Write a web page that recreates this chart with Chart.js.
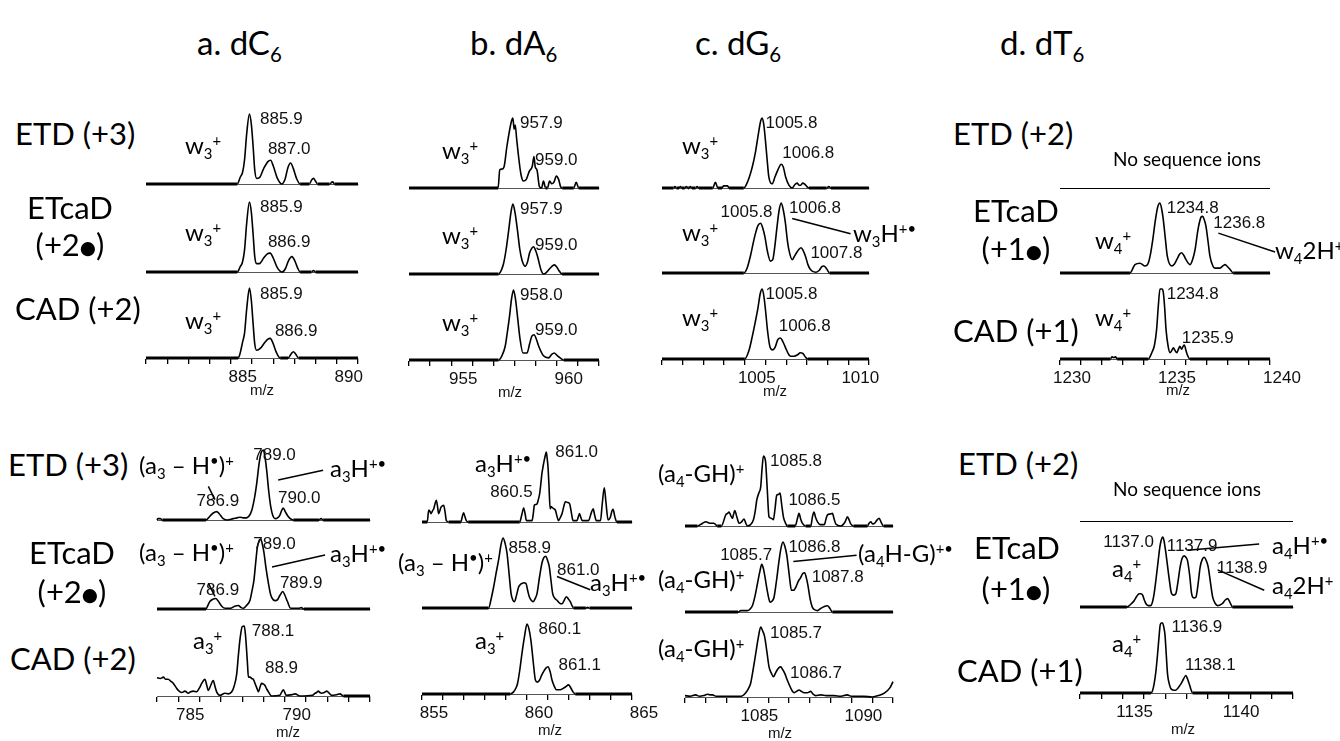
<!DOCTYPE html>
<html>
<head>
<meta charset="utf-8">
<script src="https://cdn.jsdelivr.net/npm/chart.js@4.4.1/dist/chart.umd.min.js"></script>
<style>
  html, body { margin: 0; padding: 0; background: #fff; }
  #fig { position: relative; width: 1340px; height: 741px; overflow: hidden; }
  #fig canvas { position: absolute; }
  .t { position: absolute; white-space: nowrap; font-family: Lato, "Open Sans", sans-serif; color: #000; line-height: 1; transform: translateY(-50%); }
  .t.c { transform: translate(-50%, -50%); }
  .t sub { font-size: 0.62em; vertical-align: baseline; position: relative; top: 0.32em; }
  .t sup { font-size: 0.62em; vertical-align: baseline; position: relative; top: -0.55em; }
  .ttl { font-size: 33px; }
  .row { font-size: 31px; }
  .ion { font-size: 24px; }
  .none { font-size: 19px; }
  .mz { font-family: "Liberation Sans", Arial, sans-serif; font-size: 15px; color: #111; }
  .dot { font-family: "DejaVu Sans", sans-serif; font-size: 0.6em; position: relative; top: -0.1em; }
  .rule { position: absolute; height: 0; border-top: 1.6px solid #000; }
</style>
</head>
<body>
<div id="fig"></div>
<script>
// spectra: [m/z, relative intensity]
const specA1 = [[881,0],[885.3,0],[885.45,10],[885.55,16],[885.65,35],[885.75,72],[885.88,100],[885.97,85],[886.05,55],[886.13,20],[886.22,8],[886.35,9],[886.55,22],[886.75,32],[886.88,34],[887.0,26],[887.2,8],[887.4,0],[887.55,6],[887.7,24],[887.82,30],[887.95,22],[888.1,8],[888.27,0],[888.7,0],[888.82,6],[888.9,8],[889.0,4],[889.1,0],[889.65,0],[889.8,3],[889.9,0],[891,0]];
const specA2 = [[881,0],[885.3,0],[885.45,8],[885.55,14],[885.65,32],[885.75,70],[885.88,100],[885.97,85],[886.05,55],[886.13,22],[886.22,12],[886.35,12],[886.55,20],[886.72,26],[886.86,27],[887.0,20],[887.2,6],[887.42,0],[887.58,5],[887.72,16],[887.88,22],[888.02,16],[888.15,6],[888.27,0],[888.8,0],[888.9,2],[889.0,0],[891,0]];
const specA3 = [[881,0],[885.35,0],[885.45,8],[885.55,22],[885.65,36],[885.75,70],[885.88,100],[885.97,82],[886.05,50],[886.13,20],[886.22,11],[886.4,14],[886.6,22],[886.75,27],[886.86,28],[886.98,22],[887.15,8],[887.33,0],[887.7,0],[887.85,6],[887.95,9],[888.05,6],[888.2,0],[891,0]];
const specB1 = [[953,0],[957.22,0],[957.3,26],[957.4,27],[957.5,30],[957.64,60],[957.75,80],[957.85,95],[957.92,100],[957.98,84],[958.03,90],[958.1,70],[958.19,45],[958.3,20],[958.42,10],[958.55,12],[958.7,24],[958.84,31],[958.92,45],[958.98,30],[959.06,26],[959.18,2],[959.28,0],[959.37,10],[959.47,0],[959.56,0],[959.66,10],[959.76,6],[959.86,8],[959.98,17],[960.09,12],[960.18,2],[960.26,0],[960.8,0],[960.92,8],[961.04,0],[962,0]];
const specB2 = [[953,0],[957.24,0],[957.38,6],[957.48,15],[957.6,35],[957.72,62],[957.83,88],[957.92,100],[958.02,88],[958.14,62],[958.25,35],[958.35,20],[958.5,11],[958.62,18],[958.71,30],[958.82,37],[958.9,39],[958.98,35],[959.09,25],[959.25,6],[959.37,0],[959.5,2],[959.62,6],[959.74,10],[959.88,13],[960.0,10],[960.1,5],[960.25,0],[962,0]];
const specB3 = [[953,0],[957.24,0],[957.4,6],[957.56,20],[957.66,40],[957.76,62],[957.86,88],[957.95,100],[958.04,88],[958.14,62],[958.26,30],[958.4,10],[958.59,10],[958.72,24],[958.82,34],[958.93,36],[959.03,30],[959.14,20],[959.37,6],[959.61,3],[959.76,8],[959.88,10],[960.0,7],[960.16,3],[960.33,0],[962,0]];
const specC1 = [[1001,0],[1001.55,0],[1001.62,2],[1001.7,0],[1001.82,0],[1001.89,2],[1001.96,0],[1002.1,0],[1002.18,2],[1002.26,0],[1002.3,0],[1002.37,2],[1002.44,0],[1002.62,0],[1002.7,2],[1002.78,0],[1003.45,0],[1003.58,8],[1003.7,0],[1003.9,0],[1003.97,3],[1004.16,3],[1004.24,0],[1004.95,0],[1005.15,10],[1005.36,30],[1005.52,52],[1005.66,78],[1005.77,96],[1005.84,100],[1005.92,90],[1006.0,67],[1006.08,40],[1006.16,16],[1006.32,6],[1006.46,16],[1006.6,26],[1006.76,34],[1006.86,30],[1006.97,16],[1007.13,4],[1007.29,0],[1007.42,5],[1007.53,7],[1007.62,4],[1007.7,4],[1007.8,7],[1007.88,6],[1008.0,2],[1008.1,0],[1008.95,0],[1009.06,2],[1009.16,0],[1011,0]];
const specC2 = [[1001,0],[1004.95,0],[1005.1,6],[1005.27,24],[1005.4,42],[1005.52,57],[1005.64,68],[1005.76,71],[1005.87,64],[1005.97,52],[1006.1,30],[1006.24,17],[1006.35,19],[1006.45,38],[1006.56,67],[1006.66,90],[1006.76,100],[1006.86,90],[1006.96,72],[1007.05,48],[1007.13,33],[1007.29,19],[1007.4,24],[1007.5,29],[1007.62,34],[1007.72,36],[1007.82,32],[1007.93,24],[1008.05,12],[1008.17,5],[1008.42,1],[1008.6,4],[1008.72,9],[1008.82,10],[1008.95,6],[1009.1,0],[1011,0]];
const specC3 = [[1001,0],[1005.0,0],[1005.2,12],[1005.36,32],[1005.5,52],[1005.63,72],[1005.75,94],[1005.84,100],[1005.92,90],[1006.0,70],[1006.1,40],[1006.21,18],[1006.32,13],[1006.45,16],[1006.6,28],[1006.72,30],[1006.82,26],[1006.97,16],[1007.13,6],[1007.21,4],[1007.37,4],[1007.55,6],[1007.68,9],[1007.8,8],[1007.95,2],[1008.05,0],[1011,0]];
const specD2 = [[1230,0],[1233.33,0],[1233.57,12],[1233.81,14],[1234.05,10],[1234.2,14],[1234.29,24],[1234.42,48],[1234.52,71],[1234.65,94],[1234.76,100],[1234.85,90],[1234.92,76],[1235.02,48],[1235.11,24],[1235.32,10],[1235.45,13],[1235.56,19],[1235.7,27],[1235.79,29],[1235.9,25],[1236.0,19],[1236.19,12],[1236.3,18],[1236.43,33],[1236.55,58],[1236.63,71],[1236.72,80],[1236.79,81],[1236.87,76],[1236.95,67],[1237.05,45],[1237.14,24],[1237.28,10],[1237.38,7],[1237.62,7],[1237.75,10],[1237.86,12],[1237.98,9],[1238.1,5],[1238.25,0],[1240,0]];
const specD3 = [[1230,0],[1232.4,0],[1232.48,3],[1232.56,2],[1232.64,3],[1232.72,0],[1234.2,0],[1234.37,9],[1234.5,20],[1234.6,42],[1234.68,75],[1234.76,100],[1234.86,100],[1234.92,95],[1234.98,75],[1235.05,42],[1235.15,18],[1235.24,9],[1235.32,12],[1235.4,16],[1235.48,12],[1235.56,9],[1235.64,14],[1235.71,18],[1235.79,14],[1235.86,18],[1235.92,20],[1236.0,12],[1236.06,6],[1236.19,0],[1240,0]];
const specA4 = [[784,0],[784.05,2],[784.15,2],[784.25,0],[786.3,0],[786.5,6],[786.64,10],[786.8,12],[786.92,9],[787.11,2],[787.3,0],[787.58,2],[787.75,3],[787.9,4],[788.05,3],[788.2,3],[788.33,6],[788.45,14],[788.58,32],[788.68,52],[788.8,82],[788.9,97],[788.99,100],[789.07,90],[789.15,71],[789.25,40],[789.34,19],[789.44,6],[789.54,2],[789.66,3],[789.77,7],[789.86,14],[789.93,17],[790.02,12],[790.16,5],[790.3,1],[790.4,0],[791.6,0],[791.7,2],[791.8,0],[794,0]];
const specA5 = [[784,0],[786.3,0],[786.4,6],[786.49,11],[786.62,14],[786.76,15],[786.88,11],[787.04,4],[787.2,1],[787.45,1],[787.65,4],[787.82,5],[787.95,2],[788.05,1],[788.2,5],[788.37,13],[788.46,26],[788.55,41],[788.63,65],[788.71,88],[788.8,98],[788.87,100],[788.95,92],[789.02,81],[789.12,58],[789.23,37],[789.34,20],[789.46,13],[789.56,12],[789.65,13],[789.78,20],[789.9,25],[790.0,20],[790.12,11],[790.28,1],[790.65,1],[790.78,2],[790.9,0],[794,0]];
const specA6 = [[784,26],[784.15,25],[784.3,27],[784.4,24],[784.53,24],[784.65,21],[784.77,18],[784.9,12],[785.0,8],[785.16,5],[785.31,7],[785.47,4],[785.58,6],[785.7,7],[785.86,6],[786.0,12],[786.1,18],[786.25,24],[786.33,16],[786.41,8],[786.52,15],[786.64,22],[786.72,14],[786.8,6],[786.96,1],[787.19,4],[787.35,3],[787.51,6],[787.62,14],[787.74,31],[787.82,58],[787.9,82],[788.0,99],[788.1,100],[788.16,85],[788.21,64],[788.25,45],[788.29,27],[788.37,27],[788.45,25],[788.52,24],[788.6,18],[788.68,12],[788.76,6],[788.85,14],[788.91,18],[789.0,17],[789.07,15],[789.15,10],[789.23,6],[789.38,0],[789.77,1],[789.86,6],[789.93,9],[790.0,5],[790.06,1],[790.35,2],[790.48,3],[790.71,0],[791.3,1],[791.42,4],[791.5,5],[791.57,7],[791.65,5],[791.73,4],[791.85,5],[791.97,7],[792.08,4],[792.2,1],[792.45,2],[792.59,3],[792.75,0],[794,0]];
const specB4 = [[855,0],[855.25,0],[855.32,17],[855.38,15],[855.43,12],[855.5,16],[855.56,19],[855.62,26],[855.68,31],[855.74,22],[855.79,12],[855.85,16],[855.9,21],[855.97,23],[856.03,24],[856.1,14],[856.16,2],[856.27,0],[856.85,0],[856.92,8],[856.98,13],[857.05,7],[857.11,2],[857.2,0],[859.65,0],[859.75,10],[859.84,20],[859.92,10],[859.97,2],[860.24,2],[860.3,12],[860.35,24],[860.42,25],[860.48,26],[860.54,32],[860.6,40],[860.66,55],[860.71,69],[860.77,80],[860.82,88],[860.88,96],[860.92,100],[860.97,88],[861.0,79],[861.05,50],[861.1,19],[861.15,22],[861.19,21],[861.27,19],[861.35,17],[861.43,8],[861.5,2],[861.58,6],[861.67,12],[861.75,22],[861.83,29],[861.93,28],[862.03,26],[862.12,12],[862.19,2],[862.38,2],[862.44,7],[862.5,12],[862.56,7],[862.63,2],[862.93,2],[863.05,12],[863.15,19],[863.22,10],[863.3,2],[863.5,2],[863.58,25],[863.68,49],[863.76,28],[863.86,3],[863.96,6],[864.05,16],[864.1,18],[864.18,8],[864.28,0],[865,0]];
const specB5 = [[855,0],[858.17,0],[858.3,14],[858.41,30],[858.53,50],[858.65,69],[858.76,90],[858.86,100],[858.96,92],[859.05,78],[859.15,48],[859.24,21],[859.33,11],[859.4,9],[859.5,18],[859.6,30],[859.7,34],[859.76,35],[859.85,36],[859.95,35],[860.04,24],[860.11,16],[860.2,11],[860.29,9],[860.38,13],[860.48,21],[860.6,45],[860.71,64],[860.8,72],[860.9,74],[860.98,68],[861.06,59],[861.14,40],[861.22,21],[861.32,14],[861.43,11],[861.55,7],[861.67,6],[861.77,11],[861.87,16],[861.97,13],[862.06,9],[862.15,3],[862.22,0],[862.8,0],[862.89,1],[862.98,0],[865,0]];
const specB6 = [[855,0],[859.2,0],[859.36,3],[859.48,9],[859.55,15],[859.66,35],[859.76,58],[859.88,82],[860.0,100],[860.1,92],[860.19,76],[860.3,45],[860.4,20],[860.5,17],[860.6,20],[860.7,27],[860.79,32],[860.9,37],[861.0,39],[861.1,32],[861.19,20],[861.3,11],[861.4,6],[861.59,6],[861.72,8],[861.83,10],[861.98,13],[862.08,9],[862.19,3],[862.3,0],[865,0]];
const specC4 = [[1082,0],[1082.6,0],[1082.85,4],[1083.0,6],[1083.2,4],[1083.39,4],[1083.55,0],[1083.75,0],[1083.96,16],[1084.05,18],[1084.12,20],[1084.2,15],[1084.28,11],[1084.33,16],[1084.39,22],[1084.5,12],[1084.6,4],[1084.72,6],[1084.84,10],[1084.92,4],[1085.0,0],[1085.15,2],[1085.29,9],[1085.38,22],[1085.45,37],[1085.55,47],[1085.64,56],[1085.7,80],[1085.77,100],[1085.83,98],[1085.88,90],[1085.95,55],[1086.04,13],[1086.15,11],[1086.25,9],[1086.33,25],[1086.41,44],[1086.49,45],[1086.57,47],[1086.65,30],[1086.73,13],[1086.82,5],[1086.92,0],[1087.3,0],[1087.4,10],[1087.48,18],[1087.56,10],[1087.64,4],[1087.8,0],[1088.05,0],[1088.12,12],[1088.2,20],[1088.28,12],[1088.37,6],[1088.5,2],[1088.7,2],[1088.78,10],[1088.85,16],[1088.97,17],[1089.09,18],[1089.17,10],[1089.25,3],[1089.5,0],[1089.7,6],[1089.81,13],[1089.9,8],[1089.97,3],[1090.1,0],[1090.77,0],[1090.85,4],[1090.93,6],[1091.02,3],[1091.12,4],[1091.22,8],[1091.33,11],[1091.45,4],[1091.55,0],[1092,0]];
const specC5 = [[1082,0],[1084.55,0],[1084.68,2],[1085.0,2],[1085.12,4],[1085.24,9],[1085.36,22],[1085.48,40],[1085.6,58],[1085.69,68],[1085.77,62],[1085.85,49],[1085.97,28],[1086.09,14],[1086.2,16],[1086.28,21],[1086.4,45],[1086.52,73],[1086.62,92],[1086.71,100],[1086.8,94],[1086.89,82],[1087.0,56],[1087.12,31],[1087.22,31],[1087.32,35],[1087.45,44],[1087.56,49],[1087.66,55],[1087.75,56],[1087.84,48],[1087.91,38],[1088.02,18],[1088.12,7],[1088.25,3],[1088.37,2],[1088.52,5],[1088.7,8],[1088.85,9],[1088.97,5],[1089.09,0],[1092,0]];
const specC6 = [[1082,2],[1082.25,1],[1082.51,3],[1082.7,1],[1082.9,2],[1083.08,4],[1083.2,3],[1083.32,3],[1083.5,1],[1084.7,1],[1084.92,6],[1085.05,12],[1085.16,20],[1085.28,40],[1085.4,62],[1085.52,84],[1085.64,100],[1085.74,94],[1085.83,86],[1085.94,64],[1086.04,43],[1086.15,34],[1086.25,29],[1086.35,34],[1086.44,39],[1086.52,42],[1086.6,43],[1086.7,39],[1086.79,34],[1086.92,24],[1087.05,15],[1087.15,9],[1087.24,6],[1087.36,8],[1087.48,10],[1087.6,8],[1087.72,6],[1087.88,6],[1088.04,8],[1088.16,4],[1088.28,2],[1088.52,3],[1088.8,2],[1089.16,2],[1089.5,1],[1089.8,3],[1090.0,1],[1090.6,1],[1091.0,0],[1091.3,2],[1091.6,6],[1091.85,13],[1092,22]];
const specD5 = [[1133,0],[1135.2,0],[1135.31,2],[1135.42,5],[1135.54,9],[1135.66,15],[1135.78,19],[1135.86,19],[1135.94,17],[1136.02,10],[1136.09,5],[1136.2,2],[1136.33,2],[1136.41,8],[1136.48,19],[1136.57,40],[1136.67,66],[1136.75,86],[1136.8,94],[1136.88,100],[1136.92,98],[1137.0,84],[1137.08,66],[1137.18,42],[1137.3,19],[1137.4,17],[1137.5,19],[1137.6,36],[1137.7,57],[1137.8,70],[1137.89,73],[1137.97,71],[1138.05,66],[1138.15,45],[1138.24,19],[1138.34,13],[1138.44,14],[1138.54,32],[1138.64,57],[1138.74,68],[1138.83,71],[1138.93,66],[1139.02,57],[1139.12,36],[1139.23,14],[1139.35,5],[1139.46,2],[1139.58,3],[1139.69,5],[1139.82,10],[1139.93,12],[1140.05,6],[1140.16,0],[1143,0]];
const specD6 = [[1133,0],[1136.33,0],[1136.4,3],[1136.48,13],[1136.56,30],[1136.64,55],[1136.71,80],[1136.77,98],[1136.83,100],[1136.88,100],[1136.94,93],[1136.99,83],[1137.05,55],[1137.11,27],[1137.2,12],[1137.27,6],[1137.4,4],[1137.5,4],[1137.62,8],[1137.74,13],[1137.86,20],[1137.97,25],[1138.05,20],[1138.13,13],[1138.21,5],[1138.29,0],[1143,0]];

// m/z ranges and labelled ticks
const rangeTopA = [881, 891], rangeTopB = [953, 962], rangeTopC = [1001, 1011], rangeTopD = [1230, 1240];
const rangeBotA = [784, 794], rangeBotB = [855, 865], rangeBotC = [1082, 1092], rangeBotD = [1133, 1143];
const ticksTopA = [885, 890], ticksTopB = [955, 960], ticksTopC = [1005, 1010], ticksTopD = [1230, 1235, 1240];
const ticksBotA = [785, 790], ticksBotB = [855, 860, 865], ticksBotC = [1085, 1090], ticksBotD = [1135, 1140];

// peak labels: [m/z, intensity, text]
const lblA1 = [[886.38, 93, '885.9'], [886.75, 49, '887.0']];
const lblA2 = [[886.38, 93, '885.9'], [886.75, 43, '886.9']];
const lblA3 = [[886.38, 91, '885.9'], [887.08, 38, '886.9']];
const lblB1 = [[958.26, 92, '957.9'], [958.97, 40, '959.0']];
const lblB2 = [[958.26, 92, '957.9'], [958.97, 41, '959.0']];
const lblB3 = [[958.26, 93, '958.0'], [958.97, 43, '959.0']];
const lblC1 = [[1006.0, 92, '1005.8'], [1006.81, 50, '1006.8']];
const lblC2 = [[1003.83, 87, '1005.8'], [1007.13, 92, '1006.8'], [1008.17, 28, '1007.8']];
const lblC3 = [[1006.0, 93, '1005.8'], [1006.64, 46, '1006.8']];
const lblD2 = [[1235.08, 92, '1234.8'], [1237.3, 71, '1236.8']];
const lblD3 = [[1235.08, 93, '1234.8'], [1235.8, 30, '1235.9']];
const lblA4 = [[788.52, 93, '789.0'], [785.86, 26, '786.9'], [789.68, 31, '790.0']];
const lblA5 = [[788.52, 93, '789.0'], [785.86, 27, '786.9'], [789.77, 36, '789.9']];
const lblA6 = [[788.45, 93, '788.1'], [789.07, 40, '88.9']];
const lblB4 = [[861.35, 100, '861.0'], [858.25, 43, '860.5']];
const lblB5 = [[859.12, 85, '858.9'], [861.43, 54, '861.0']];
const lblB6 = [[860.55, 92, '860.1'], [861.5, 41, '861.1']];
const lblC4 = [[1086.09, 92, '1085.8'], [1086.97, 37, '1086.5']];
const lblC5 = [[1083.69, 81, '1085.7'], [1086.97, 93, '1086.8'], [1088.09, 50, '1087.8']];
const lblC6 = [[1086.09, 91, '1085.7'], [1087.05, 34, '1086.7']];
const lblD5 = [[1134.09, 93, '1137.0'], [1137.07, 86, '1137.9'], [1139.42, 55, '1138.9']];
const lblD6 = [[1137.3, 94, '1136.9'], [1137.93, 40, '1138.1']];

// leader lines: [m/z1, int1, m/z2, int2]
const ldA4 = [[789.69, 57, 791.8, 71], [786.41, 48, 786.72, 29]];
const ldA5 = [[789.4, 60, 791.89, 77], [786.41, 37, 786.72, 18]];
const ldB5 = [[861.43, 45, 863.01, 26]];
const ldC2 = [[1007.29, 78, 1010.11, 56]];
const ldC5 = [[1087.21, 72, 1090.25, 81]];
const ldD2 = [[1237.54, 57, 1240.24, 30]];
const ldD5 = [[1138.05, 81, 1141.41, 90], [1139.46, 53, 1141.65, 24]];

// panel placement: [left px, right px, baseline px]
const layout = {
  A1: [146, 358, 184], A2: [146, 358, 272], A3: [146, 358, 358],
  B1: [409, 599, 188], B2: [409, 599, 274], B3: [409, 599, 360],
  C1: [662, 869, 188], C2: [662, 869, 273], C3: [662, 869, 359],
  D2: [1060, 1270, 273], D3: [1060, 1270, 359],
  A4: [157, 370, 520], A5: [157, 370, 609], A6: [157, 370, 696],
  B4: [422, 632, 522], B5: [422, 632, 608], B6: [422, 632, 694],
  C4: [685, 893, 526], C5: [685, 893, 612], C6: [685, 893, 697],
  D5: [1080, 1293, 607], D6: [1080, 1293, 693]
};

const fig = document.getElementById('fig');
const PL = 10, PR = 40, PT = 16, PB = 4, H = 70, AX = 30;

function labelPlugin(lbl, ld) {
  return {
    id: 'peakText',
    afterDatasetsDraw(chart) {
      const { ctx } = chart;
      const x = chart.scales.x, y = chart.scales.y;
      ctx.save();
      ctx.fillStyle = '#111';
      ctx.font = '17px "Liberation Sans", Arial, sans-serif';
      ctx.textBaseline = 'middle';
      ctx.textAlign = 'left';
      lbl.forEach(([m, v, t]) => ctx.fillText(t, x.getPixelForValue(m), y.getPixelForValue(v)));
      ctx.strokeStyle = '#000';
      ctx.lineWidth = 1.5;
      ld.forEach(([m1, v1, m2, v2]) => {
        ctx.beginPath();
        ctx.moveTo(x.getPixelForValue(m1), y.getPixelForValue(v1));
        ctx.lineTo(x.getPixelForValue(m2), y.getPixelForValue(v2));
        ctx.stroke();
      });
      ctx.restore();
    }
  };
}

function panel(key, spec, range, tk, lbl, ld) {
  const [x0, x1, yb] = layout[key];
  const axis = tk !== null;
  const cv = document.createElement('canvas');
  cv.width = (x1 - x0) + PL + PR;
  cv.height = PT + H + (axis ? AX : 0) + PB;
  cv.style.left = (x0 - PL) + 'px';
  cv.style.top = (yb - H - PT) + 'px';
  fig.appendChild(cv);

  new Chart(cv, {
    type: 'line',
    data: {
      datasets: [{
        data: spec.map(p => ({ x: p[0], y: p[1] })),
        borderColor: '#000',
        borderWidth: 1.6,
        pointRadius: 0,
        fill: false,
        clip: false,
        cubicInterpolationMode: 'monotone',
        segment: {
          borderWidth: c => (c.p0.parsed.y <= 0.5 && c.p1.parsed.y <= 0.5) ? 3 : 1.6
        }
      }]
    },
    options: {
      responsive: false,
      animation: false,
      events: [],
      layout: { padding: { left: PL, right: PR, top: PT, bottom: PB } },
      plugins: { legend: { display: false }, tooltip: { enabled: false } },
      scales: {
        x: {
          type: 'linear',
          min: range[0],
          max: range[1],
          border: { display: true, color: '#555', width: 1 },
          grid: { display: axis, drawOnChartArea: false, drawTicks: true, tickLength: 6, color: '#000', lineWidth: 1.3 },
          ticks: {
            display: axis,
            stepSize: 1,
            autoSkip: false,
            maxRotation: 0,
            padding: 3,
            labelOffset: 12,
            color: '#111',
            font: { family: 'Liberation Sans', size: 17 },
            callback: v => (axis && tk.includes(v)) ? String(v) : ''
          },
          afterFit: s => { s.height = axis ? AX : 0; s.paddingLeft = 0; s.paddingRight = 0; }
        },
        y: { display: false, min: 0, max: 100 }
      }
    },
    plugins: [labelPlugin(lbl, ld)]
  });
}

panel('A1', specA1, rangeTopA, null, lblA1, []);
panel('A2', specA2, rangeTopA, null, lblA2, []);
panel('A3', specA3, rangeTopA, ticksTopA, lblA3, []);
panel('B1', specB1, rangeTopB, null, lblB1, []);
panel('B2', specB2, rangeTopB, null, lblB2, []);
panel('B3', specB3, rangeTopB, ticksTopB, lblB3, []);
panel('C1', specC1, rangeTopC, null, lblC1, []);
panel('C2', specC2, rangeTopC, null, lblC2, ldC2);
panel('C3', specC3, rangeTopC, ticksTopC, lblC3, []);
panel('D2', specD2, rangeTopD, null, lblD2, ldD2);
panel('D3', specD3, rangeTopD, ticksTopD, lblD3, []);
panel('A4', specA4, rangeBotA, null, lblA4, ldA4);
panel('A5', specA5, rangeBotA, null, lblA5, ldA5);
panel('A6', specA6, rangeBotA, ticksBotA, lblA6, []);
panel('B4', specB4, rangeBotB, null, lblB4, []);
panel('B5', specB5, rangeBotB, null, lblB5, ldB5);
panel('B6', specB6, rangeBotB, ticksBotB, lblB6, []);
panel('C4', specC4, rangeBotC, null, lblC4, []);
panel('C5', specC5, rangeBotC, null, lblC5, ldC5);
panel('C6', specC6, rangeBotC, ticksBotC, lblC6, []);
panel('D5', specD5, rangeBotD, null, lblD5, ldD5);
panel('D6', specD6, rangeBotD, ticksBotD, lblD6, []);

// empty ETD panels of dT6
[[1060, 188, 210], [1080, 521, 213]].forEach(([l, t, w]) => {
  const d = document.createElement('div');
  d.className = 'rule';
  d.style.left = l + 'px'; d.style.top = t + 'px'; d.style.width = w + 'px';
  fig.appendChild(d);
});

const DOT = '<span class="dot">●</span>';
const texts = [
  [197, 42, 'ttl', 'a. dC<sub>6</sub>'], [470, 42, 'ttl', 'b. dA<sub>6</sub>'],
  [695, 42, 'ttl', 'c. dG<sub>6</sub>'], [1000, 42, 'ttl', 'd. dT<sub>6</sub>'],

  [15, 133, 'row', 'ETD (+3)'], [70, 207, 'row c', 'ETcaD'], [70, 244, 'row c', '(+2' + DOT + ')'], [15, 308, 'row', 'CAD (+2)'],
  [8, 464, 'row', 'ETD (+3)'], [72, 552, 'row c', 'ETcaD'], [72, 591, 'row c', '(+2' + DOT + ')'], [10, 658, 'row', 'CAD (+2)'],
  [953, 133, 'row', 'ETD (+2)'], [1016, 210, 'row c', 'ETcaD'], [1016, 248, 'row c', '(+1' + DOT + ')'], [953, 330, 'row', 'CAD (+1)'],
  [958, 463, 'row', 'ETD (+2)'], [1017, 547, 'row c', 'ETcaD'], [1016, 588, 'row c', '(+1' + DOT + ')'], [957, 670, 'row', 'CAD (+1)'],

  [1187, 158, 'none c', 'No sequence ions'], [1187, 488, 'none c', 'No sequence ions'],

  [262, 389, 'mz c', 'm/z'], [510, 391, 'mz c', 'm/z'], [775, 390, 'mz c', 'm/z'], [1178, 389, 'mz c', 'm/z'],
  [288, 731, 'mz c', 'm/z'], [550, 729, 'mz c', 'm/z'], [780, 732, 'mz c', 'm/z'], [1183, 728, 'mz c', 'm/z'],

  [185, 145, 'ion', 'w<sub>3</sub><sup>+</sup>'], [185, 232, 'ion', 'w<sub>3</sub><sup>+</sup>'], [185, 320, 'ion', 'w<sub>3</sub><sup>+</sup>'],
  [442, 150, 'ion', 'w<sub>3</sub><sup>+</sup>'], [442, 235, 'ion', 'w<sub>3</sub><sup>+</sup>'], [442, 322, 'ion', 'w<sub>3</sub><sup>+</sup>'],
  [682, 145, 'ion', 'w<sub>3</sub><sup>+</sup>'], [682, 232, 'ion', 'w<sub>3</sub><sup>+</sup>'], [682, 317, 'ion', 'w<sub>3</sub><sup>+</sup>'],
  [853, 233, 'ion', 'w<sub>3</sub>H<sup>+•</sup>'],
  [1095, 240, 'ion', 'w<sub>4</sub><sup>+</sup>'], [1275, 250, 'ion', 'w<sub>4</sub>2H<sup>+</sup>'], [1095, 317, 'ion', 'w<sub>4</sub><sup>+</sup>'],

  [139, 465, 'ion', '(a<sub>3</sub> – H<sup>•</sup>)<sup>+</sup>'], [330, 468, 'ion', 'a<sub>3</sub>H<sup>+•</sup>'],
  [139, 552, 'ion', '(a<sub>3</sub> – H<sup>•</sup>)<sup>+</sup>'], [330, 553, 'ion', 'a<sub>3</sub>H<sup>+•</sup>'],
  [193, 640, 'ion', 'a<sub>3</sub><sup>+</sup>'],
  [475, 463, 'ion', 'a<sub>3</sub>H<sup>+•</sup>'],
  [398, 562, 'ion', '(a<sub>3</sub> – H<sup>•</sup>)<sup>+</sup>'], [590, 582, 'ion', 'a<sub>3</sub>H<sup>+•</sup>'],
  [475, 640, 'ion', 'a<sub>3</sub><sup>+</sup>'],
  [658, 473, 'ion', '(a<sub>4</sub>-GH)<sup>+</sup>'], [658, 579, 'ion', '(a<sub>4</sub>-GH)<sup>+</sup>'],
  [858, 553, 'ion', '(a<sub>4</sub>H-G)<sup>+•</sup>'], [658, 648, 'ion', '(a<sub>4</sub>-GH)<sup>+</sup>'],
  [1112, 568, 'ion', 'a<sub>4</sub><sup>+</sup>'], [1272, 545, 'ion', 'a<sub>4</sub>H<sup>+•</sup>'],
  [1272, 585, 'ion', 'a<sub>4</sub>2H<sup>+</sup>'], [1112, 643, 'ion', 'a<sub>4</sub><sup>+</sup>']
];

texts.forEach(([x, y, cls, html]) => {
  const d = document.createElement('div');
  d.className = 't ' + cls;
  d.style.left = x + 'px';
  d.style.top = y + 'px';
  d.innerHTML = html;
  fig.appendChild(d);
});
</script>
</body>
</html>
